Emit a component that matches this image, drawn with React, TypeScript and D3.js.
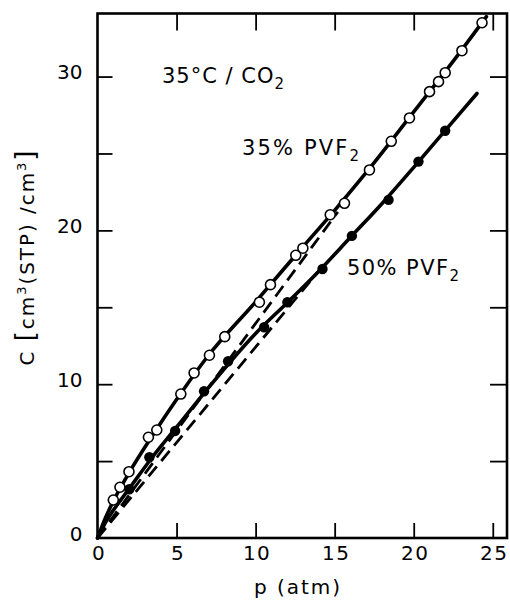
import * as d3 from "d3";
import { useEffect, useRef } from "react";

// 35% PVF2 (open circles)
const pOpen = [1.0, 1.42, 1.99, 3.22, 3.75, 5.27, 6.11, 7.08, 8.05, 10.24, 10.94, 12.54, 12.99, 14.72, 15.62, 17.2, 18.58, 19.73, 21.0, 21.57, 21.99, 23.05, 24.32];
const cOpen = [2.47, 3.3, 4.31, 6.55, 7.02, 9.36, 10.73, 11.88, 13.09, 15.33, 16.47, 18.38, 18.84, 21.02, 21.76, 23.93, 25.79, 27.31, 29.02, 29.67, 30.25, 31.68, 33.5];

// 50% PVF2 (filled circles)
const pFilled = [2.01, 3.28, 4.91, 6.74, 8.26, 10.54, 12.01, 14.23, 16.09, 18.41, 20.3, 21.99];
const cFilled = [3.17, 5.25, 6.96, 9.54, 11.49, 13.7, 15.33, 17.49, 19.64, 21.98, 24.47, 26.48];

// drawn curves
const fitOpenP = [0, 0.5, 1, 2, 3.5, 5, 7, 10, 12.5, 15, 17.5, 20, 22.5, 24.6];
const fitOpenC = [0, 1.3, 2.4, 4.25, 6.7, 9.0, 11.85, 15.35, 18.35, 21.3, 24.4, 27.7, 31.0, 33.9];
const fitFilledP = [0, 0.5, 1, 2, 3.5, 5, 7, 10, 12, 14, 16, 18, 20, 22, 24];
const fitFilledC = [0, 1.0, 1.8, 3.2, 5.3, 7.2, 9.75, 13.3, 15.3, 17.35, 19.55, 21.75, 24.1, 26.5, 28.9];

// dashed straight lines
const dashAP = [0, 15.2];
const dashAC = [0, 21.2];
const dashBP = [0, 14.1];
const dashBC = [0, 17.5];

const xTickLabels = [0, 5, 10, 15, 20, 25];
const xTickMarks = [5, 10, 15, 20, 25];
const yTickLabels = [0, 10, 20, 30];
const yTickMarks = [5, 10, 15, 20, 25, 30];

const W = 510;
const H = 601;
const FONT = "'DejaVu Sans', sans-serif";

function zip(ps: number[], cs: number[]) {
  return ps.map((p, i) => ({ p, c: cs[i] }));
}

export default function App() {
  const ref = useRef<SVGSVGElement | null>(null);

  useEffect(() => {
    const svg = d3.select(ref.current);
    svg.selectAll("*").remove();

    const x = d3.scaleLinear().domain([0, 25.9]).range([97.5, 507]);
    const y = d3.scaleLinear().domain([0, 34.1]).range([538, 13.5]);
    const [x0, x1] = x.range();
    const [y0, y1] = y.range();

    const styleTicks = (g: any) => {
      g.select(".domain").remove();
      g.selectAll("line").attr("stroke", "#000").attr("stroke-width", 1.8);
    };

    // inward tick marks on all four sides
    svg.append("g").attr("transform", `translate(0,${y0})`)
      .call(d3.axisBottom(x).tickValues(xTickMarks).tickSize(-15).tickFormat(() => ""))
      .call(styleTicks);
    svg.append("g").attr("transform", `translate(0,${y1})`)
      .call(d3.axisTop(x).tickValues(xTickMarks).tickSize(-17).tickFormat(() => ""))
      .call(styleTicks);
    svg.append("g").attr("transform", `translate(${x0},0)`)
      .call(d3.axisLeft(y).tickValues(yTickMarks).tickSize(-15).tickFormat(() => ""))
      .call(styleTicks);
    svg.append("g").attr("transform", `translate(${x1},0)`)
      .call(d3.axisRight(y).tickValues(yTickMarks).tickSize(-17).tickFormat(() => ""))
      .call(styleTicks);

    // tick labels
    const xl = svg.append("g").attr("transform", `translate(0,${y0})`)
      .call(d3.axisBottom(x).tickValues(xTickLabels).tickSize(0).tickPadding(8).tickFormat(d3.format("d")));
    xl.select(".domain").remove();
    xl.selectAll("text").attr("font-family", FONT).attr("font-size", 20).attr("letter-spacing", 1.5).attr("dx", 1).attr("fill", "#000");

    const yl = svg.append("g").attr("transform", `translate(${x0},0)`)
      .call(d3.axisLeft(y).tickValues(yTickLabels).tickSize(0).tickPadding(15).tickFormat(d3.format("d")));
    yl.select(".domain").remove();
    yl.selectAll("text").attr("font-family", FONT).attr("font-size", 20).attr("dy", "0.12em").attr("fill", "#000");

    // frame
    svg.append("rect")
      .attr("x", x0).attr("y", y1).attr("width", x1 - x0).attr("height", y0 - y1)
      .attr("fill", "none").attr("stroke", "#000").attr("stroke-width", 2.6);

    const line = d3.line<{ p: number; c: number }>().x((d) => x(d.p)).y((d) => y(d.c));
    const smooth = d3.line<{ p: number; c: number }>().x((d) => x(d.p)).y((d) => y(d.c)).curve(d3.curveMonotoneX);

    // dashed lines
    [zip(dashAP, dashAC), zip(dashBP, dashBC)].forEach((pts) => {
      svg.append("path").attr("d", line(pts)).attr("fill", "none")
        .attr("stroke", "#000").attr("stroke-width", 2.8).attr("stroke-dasharray", "13,7");
    });

    // solid curves
    [zip(fitOpenP, fitOpenC), zip(fitFilledP, fitFilledC)].forEach((pts) => {
      svg.append("path").attr("d", smooth(pts)).attr("fill", "none")
        .attr("stroke", "#000").attr("stroke-width", 3.6).attr("stroke-linecap", "round");
    });

    // markers
    svg.append("g").selectAll("circle").data(zip(pOpen, cOpen)).join("circle")
      .attr("cx", (d) => x(d.p)).attr("cy", (d) => y(d.c)).attr("r", 5)
      .attr("fill", "#fff").attr("stroke", "#000").attr("stroke-width", 1.6);
    svg.append("g").selectAll("circle").data(zip(pFilled, cFilled)).join("circle")
      .attr("cx", (d) => x(d.p)).attr("cy", (d) => y(d.c)).attr("r", 5.2)
      .attr("fill", "#000");

    // annotations
    const note = (tx: number, ty: number, main: string, sub: string, len: number) => {
      const t = svg.append("text").attr("x", tx).attr("y", ty)
        .attr("font-family", FONT).attr("font-size", 21).attr("fill", "#000")
        .attr("textLength", len).attr("lengthAdjust", "spacing");
      t.append("tspan").text(main);
      t.append("tspan").attr("dy", 6).attr("font-size", 15).text(sub);
    };
    note(162, 83, "35°C / CO", "2", 122);
    note(242, 155, "35% PVF", "2", 117);
    note(347, 275, "50% PVF", "2", 112);

    // axis titles
    svg.append("text").attr("x", 298).attr("y", 594).attr("text-anchor", "middle")
      .attr("font-family", FONT).attr("font-size", 20).attr("letter-spacing", 2).attr("fill", "#000")
      .text("p (atm)");

    const yt = svg.append("text")
      .attr("transform", "translate(34,258) rotate(-90)")
      .attr("text-anchor", "middle")
      .attr("font-family", FONT).attr("font-size", 20).attr("fill", "#000")
      .attr("textLength", 215).attr("lengthAdjust", "spacing");
    yt.append("tspan").text("C ");
    yt.append("tspan").attr("font-size", 26).text("[");
    yt.append("tspan").text("cm");
    yt.append("tspan").attr("dy", -8).attr("font-size", 13).text("3");
    yt.append("tspan").attr("dy", 8).text("(STP) /cm");
    yt.append("tspan").attr("dy", -8).attr("font-size", 13).text("3");
    yt.append("tspan").attr("dy", 8).attr("font-size", 26).text("]");
  }, []);

  return (
    <svg
      ref={ref}
      width={W}
      height={H}
      style={{ position: "absolute", left: 0, top: 0, background: "#fff" }}
    />
  );
}
